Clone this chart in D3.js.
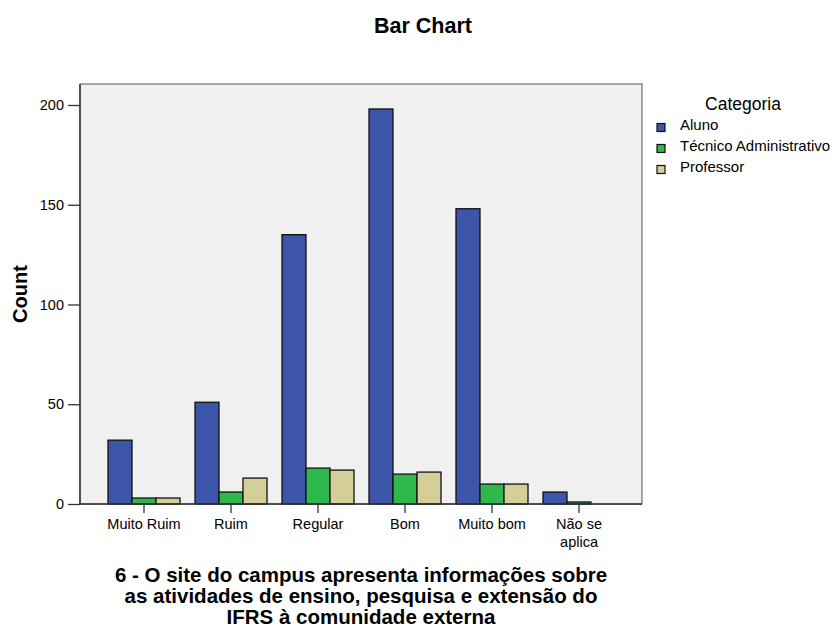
<!DOCTYPE html>
<html><head><meta charset="utf-8">
<script src="https://cdn.jsdelivr.net/npm/d3@7"></script>
<style>body{margin:0;background:#fff}svg{display:block;font-family:"Liberation Sans",Arial,sans-serif}</style>
</head><body><svg id="c" width="833" height="627"></svg>
<script>
const categories = ["Muito Ruim","Ruim","Regular","Bom","Muito bom","Não se aplica"];
const seriesNames = ["Aluno","Técnico Administrativo","Professor"];
const aluno = [32,51,135,198,148,6];
const tecnico = [3,6,18,15,10,1];
const professor = [3,13,17,16,10,0];
const yTicks = [0,50,100,150,200];
const colors = ["#3c55a8","#2fb94c","#d4cf98"];
const series = [aluno, tecnico, professor];

const svg = d3.select("#c");
const L=80, R=642, T=84, B=504;
svg.append("rect").attr("x",L).attr("y",T).attr("width",R-L).attr("height",B-T).attr("fill","#f0f0f0").attr("stroke","#555").attr("stroke-width",1);

const y = d3.scaleLinear().domain([0,200]).range([504,105]);
const x = d3.scaleBand().domain(categories).range([100.5,622.5]).paddingInner(0).paddingOuter(0);
const xs = d3.scaleBand().domain(seriesNames).range([0,72]);
const off = (x.bandwidth()-72)/2;

const g = svg.append("g");
categories.forEach((c,i)=>{
  series.forEach((s,j)=>{
    const v = s[i];
    if (v<=0) return;
    g.append("rect").attr("x",x(c)+off+xs(seriesNames[j])).attr("y",y(v))
      .attr("width",xs.bandwidth()).attr("height",y(0)-y(v))
      .attr("fill",colors[j]).attr("stroke","#111").attr("stroke-width",1.3);
  });
});

// y axis
const ya = svg.append("g").attr("transform",`translate(${L},0)`).call(d3.axisLeft(y).tickValues(yTicks).tickSize(12).tickPadding(4));
ya.select(".domain").remove();
ya.selectAll("line").attr("stroke","#333").attr("stroke-width",1.3);
ya.selectAll("text").attr("font-size",14.5).attr("fill","#000").style("font-family","Liberation Sans, Arial, sans-serif");
svg.append("line").attr("x1",L).attr("x2",L).attr("y1",T).attr("y2",B).attr("stroke","#333").attr("stroke-width",1.5);
svg.append("line").attr("x1",L).attr("x2",R).attr("y1",B).attr("y2",B).attr("stroke","#333").attr("stroke-width",1.5);

// x axis
const xa = svg.append("g").attr("transform",`translate(0,${B})`).call(d3.axisBottom(x).tickSize(9).tickPadding(6));
xa.select(".domain").remove();
xa.selectAll("line").attr("stroke","#333").attr("stroke-width",1.3);
xa.selectAll("text").attr("font-size",14.5).attr("fill","#000").style("font-family","Liberation Sans, Arial, sans-serif")
  .each(function(d){
    if (d==="Não se aplica"){
      const t=d3.select(this); t.text(null);
      t.append("tspan").attr("x",0).attr("dy","0.71em").text("Não se");
      t.append("tspan").attr("x",0).attr("dy","1.2em").text("aplica");
      t.attr("dy",null);
    }
  });

// titles
svg.append("text").attr("x",423).attr("y",32.5).attr("text-anchor","middle").attr("font-size",21.5).attr("font-weight","bold").text("Bar Chart");
svg.append("text").attr("transform","translate(27,294) rotate(-90)").attr("text-anchor","middle").attr("font-size",20).attr("font-weight","bold").text("Count");
const xt = ["6 - O site do campus apresenta informações sobre","as atividades de ensino, pesquisa e extensão do","IFRS à comunidade externa"];
xt.forEach((s,i)=>svg.append("text").attr("x",361).attr("y",582+i*21).attr("text-anchor","middle").attr("font-size",20.5).attr("font-weight","bold").text(s));

// legend
svg.append("text").attr("x",743).attr("y",110).attr("text-anchor","middle").attr("font-size",17.5).text("Categoria");
seriesNames.forEach((n,j)=>{
  const yy = 127.5 + j*21;
  svg.append("rect").attr("x",657).attr("y",yy-4).attr("width",8).attr("height",8).attr("fill",colors[j]).attr("stroke","#111").attr("stroke-width",1.2);
  svg.append("text").attr("x",680).attr("y",yy+2.5).attr("font-size",15).text(n);
});
</script></body></html>
